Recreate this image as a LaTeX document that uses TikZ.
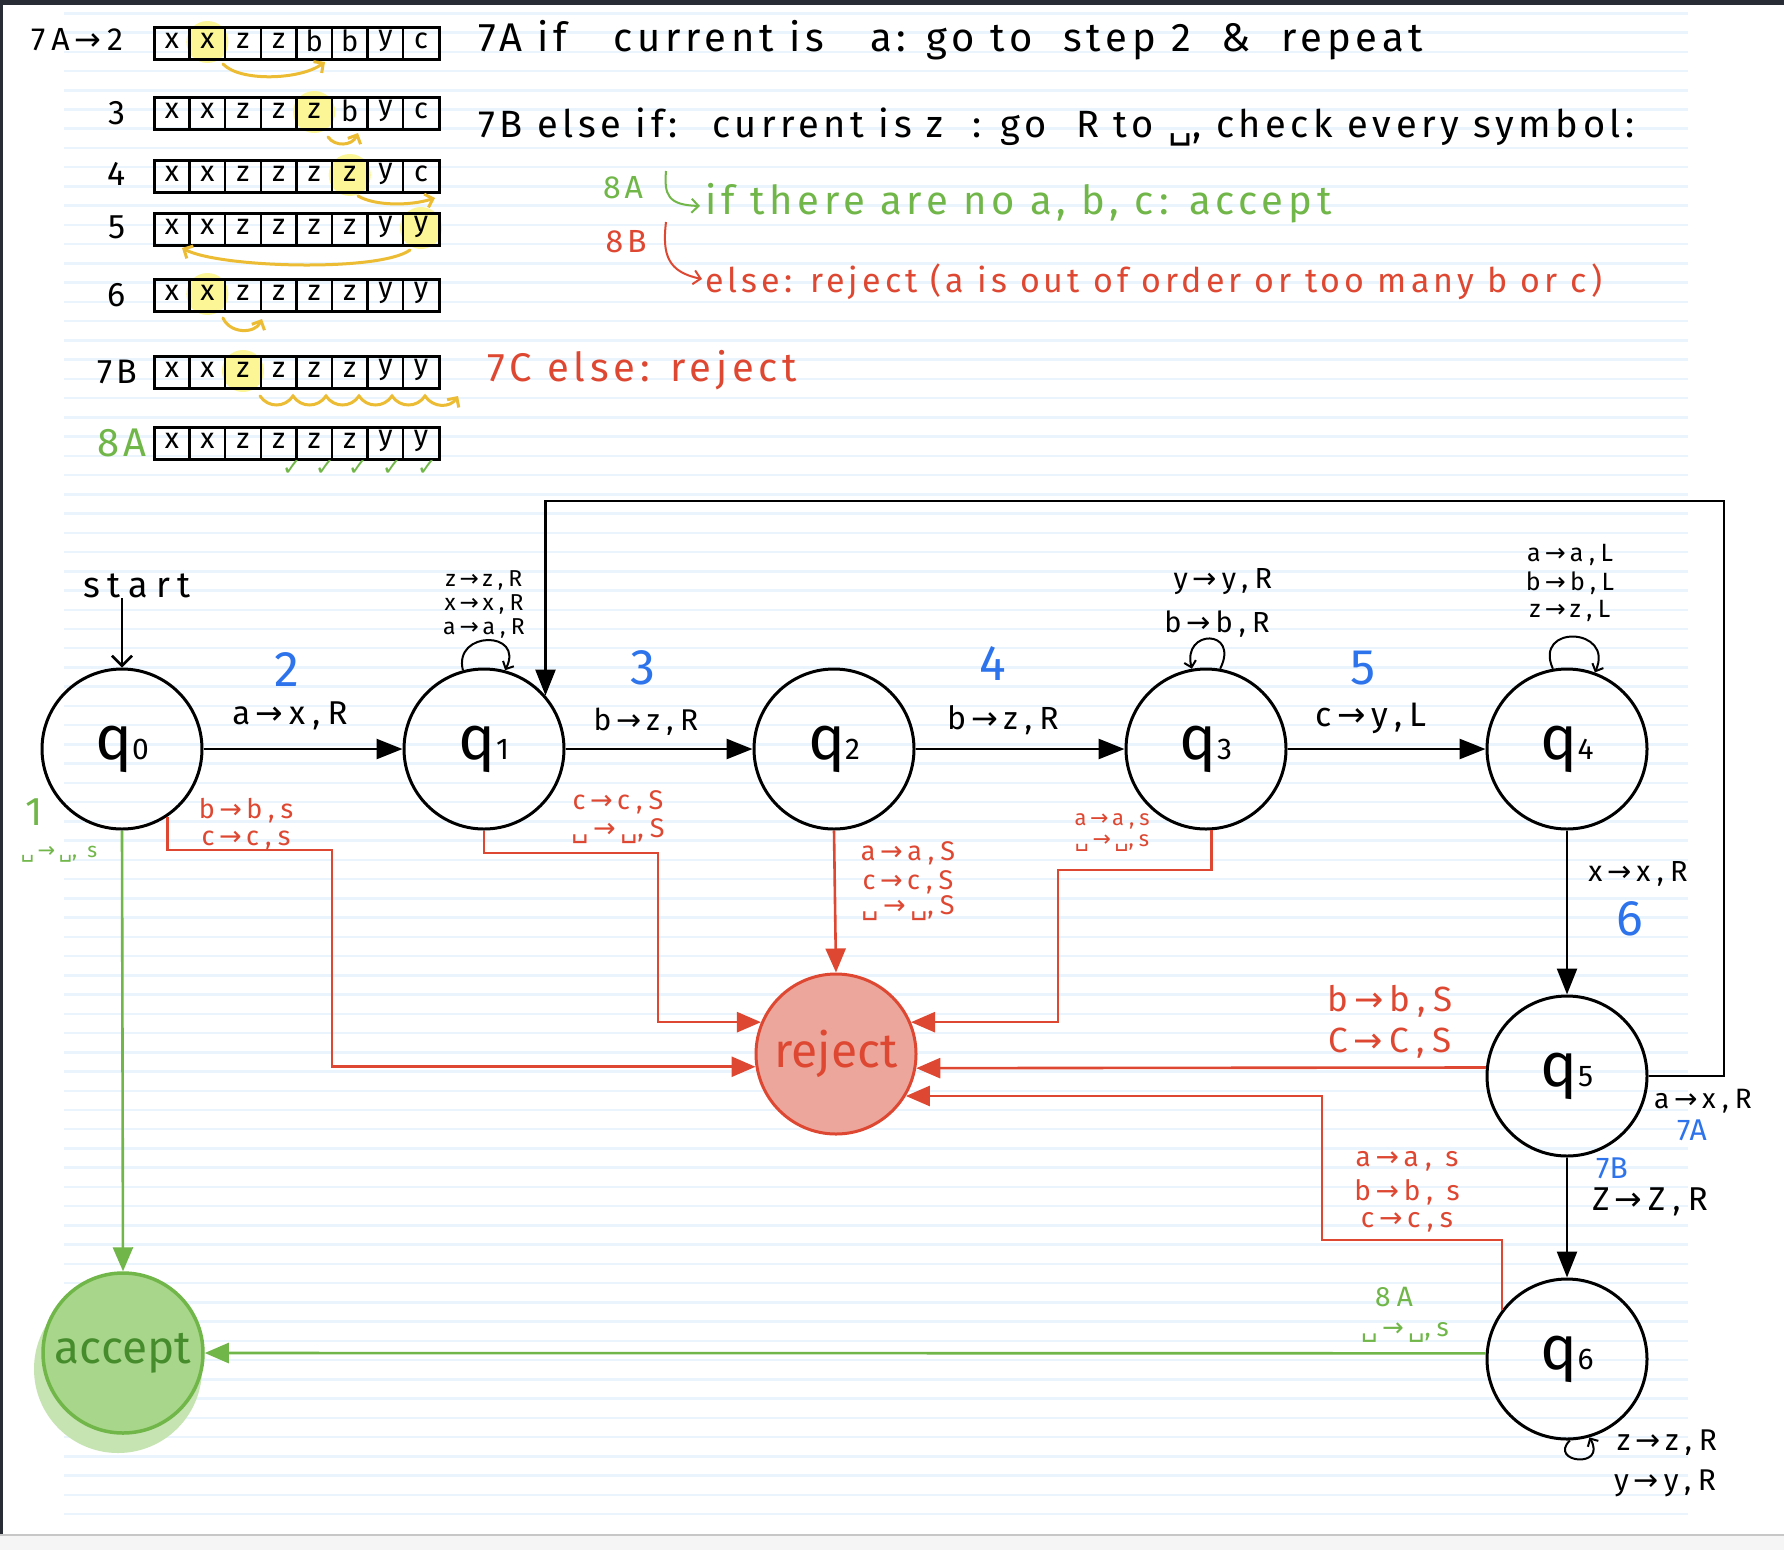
\documentclass[tikz,border=0pt]{standalone}
\usepackage{fontspec}
\setmainfont[LetterSpace=12]{Fira Sans}
\newfontfamily\lblf[LetterSpace=22]{Fira Sans}
\newfontfamily\plainf{Fira Sans}
\newfontfamily\symf{DejaVu Sans}
\usetikzlibrary{arrows.meta}
\newcommand\myra{{\,\symf →\,}}
\newcommand\myblank{{\symf ␣}}
\newcommand\fs[1]{\fontsize{#1}{#1}\selectfont}
\newcommand\labf[1]{\lblf\fontsize{#1}{#1}\selectfont}
\definecolor{stepblue}{RGB}{45,115,235}
\definecolor{rred}{RGB}{222,72,50}
\definecolor{ggreen}{RGB}{112,182,72}
\definecolor{dgreen}{RGB}{70,140,45}
\definecolor{rfill}{RGB}{236,166,156}
\definecolor{afill}{RGB}{168,214,138}
\definecolor{ashadow}{RGB}{198,228,178}
\definecolor{hl}{RGB}{252,246,150}
\definecolor{gold}{RGB}{236,188,52}
\definecolor{paper}{RGB}{234,244,252}
\definecolor{framec}{RGB}{40,44,52}
\newcommand\taperow[4]{%
  \ifnum#3>0 \fill[hl] ({154+35.6*(#3-0.5)},{#2-1}) circle (21);\fi
  \foreach \s [count=\i] in {#4} {
    \draw[line width=2.4pt] ({154+35.6*(\i-1)},{#2-16}) rectangle ++(35.6,32);
    \node[font=\plainf\fs{29}, inner sep=0pt] (#1c\i) at ({154+35.6*(\i-0.5)},{#2-2}) {\s};
  }
  \draw[line width=3pt] (154,{#2-16}) rectangle (439,{#2+16});
}
\begin{document}
\begin{tikzpicture}[x=1pt,y=-1pt,
  state/.style={circle,draw,line width=3pt,minimum size=160pt,inner sep=0pt,font=\plainf\fs{62}},
  lbl/.style={inner sep=0pt,font=\labf{26}},
  stepnum/.style={inner sep=0pt,text=stepblue,font=\plainf\fs{50}},
  blk/.style={line width=2.6pt,-{Triangle[length=26pt,width=20pt]}},
  redarr/.style={draw=rred,line width=2.6pt,-{Triangle[length=24pt,width=20pt]}},
  grnarr/.style={draw=ggreen,line width=2.6pt,-{Triangle[length=24pt,width=20pt]}},
  loopa/.style={line width=2pt,-{Straight Barb[length=6pt]}},
  goldarr/.style={draw=gold,line width=3pt,line cap=round,-{Straight Barb[length=7pt]}},
  rlbl/.style={lbl,text=rred},
  glbl/.style={lbl,text=ggreen},
]
\useasboundingbox (0,0) rectangle (1784,1550);
\fill[white] (0,0) rectangle (1784,1550);
\foreach \k in {0,...,78} \draw[paper,line width=2.5pt] (64,{13.3+19.24*\k}) -- (1688,{13.3+19.24*\k});
\fill[framec] (0,0) rectangle (1784,5);
\fill[framec] (0,0) rectangle (3,1535);
\fill[black!4] (0,1535) rectangle (1784,1550);
\draw[black!22,line width=2pt] (0,1535) -- (1784,1535);

% ---------- tapes ----------
\node[lbl,font=\labf{32}] (l1) at (77,40) {7A\myra 2};
\taperow{ra}{43}{2}{x,x,z,z,b,b,y,c}
\node[lbl,font=\fs{34}] (l2) at (117,113) {3};
\taperow{rb}{113}{5}{x,x,z,z,z,b,y,c}
\node[lbl,font=\fs{34}] (l3) at (117,174) {4};
\taperow{rc}{176}{6}{x,x,z,z,z,z,y,c}
\node[lbl,font=\fs{34}] (l4) at (117,227) {5};
\taperow{rd}{229}{8}{x,x,z,z,z,z,y,y}
\node[lbl,font=\fs{34}] (l5) at (117,295) {6};
\taperow{re}{295}{2}{x,x,z,z,z,z,y,y}
\node[lbl,font=\fs{34}] (l6) at (117,372) {7B};
\taperow{rf}{372}{3}{x,x,z,z,z,z,y,y}
\node[glbl,font=\fs{40}] (l7) at (122,443) {8A};
\taperow{rg}{443}{0}{x,x,z,z,z,z,y,y}

\draw[goldarr] (223,64) .. controls (240,82) and (300,80) .. (325,62);
\draw[goldarr] (328,137) .. controls (335,147) and (352,146) .. (358,133);
\draw[goldarr] (358,196) .. controls (375,206) and (410,206) .. (435,198);
\draw[goldarr] (410,250) .. controls (380,272) and (220,268) .. (182,248);
\draw[goldarr] (223,318) .. controls (230,334) and (255,334) .. (262,319);
\draw[goldarr] (260,396) \foreach \j in {0,...,5} { .. controls ({260+33*\j+8},408) and ({260+33*\j+25},408) .. ({260+33*(\j+1)},396) };
\foreach \cx [count=\n] in {292,325,358,392,427}
  \node[glbl,font=\symf\fs{24}] (chk\n) at (\cx,468) {✓};

% ---------- top text ----------
\node[lbl,anchor=west,font=\fs{40}] (t7a) at (478,40) {7A if \ \ current is \ \ a: go to \ step 2 \ \& \ repeat};
\node[lbl,anchor=west,font=\fs{38}] (t7b) at (478,127) {7B else if: \ current is z \ : go \ R to \myblank, check every symbol:};
\node[glbl,font=\fs{32}] (t8a) at (623,188) {8A};
\draw[ggreen,line width=2pt,-{Straight Barb[length=7pt]}] (666,171) .. controls (664,195) and (668,205) .. (700,206);
\node[glbl,anchor=west,font=\fs{40}] (t8at) at (705,203) {if there are no a, b, c: accept};
\node[rlbl,font=\fs{32}] (t8b) at (626,242) {8B};
\draw[rred,line width=2pt,-{Straight Barb[length=7pt]}] (666,222) .. controls (662,255) and (668,272) .. (702,279);
\node[rlbl,anchor=west,font=\fs{34}] (t8bt) at (705,282) {else: reject (a is out of order or too many b or c)};
\node[rlbl,anchor=west,font=\fs{40}] (t7c) at (487,370) {7C else: reject};

% ---------- states ----------
\node[state] (q0) at (122,749) {q{\fs{30}0}};
\node[state] (q1) at (484,749) {q{\fs{30}1}};
\node[state] (q2) at (834,749) {q{\fs{30}2}};
\node[state] (q3) at (1206,749) {q{\fs{30}3}};
\node[state] (q4) at (1567,749) {q{\fs{30}4}};
\node[state] (q5) at (1567,1076) {q{\fs{30}5}};
\node[state] (q6) at (1567,1359) {q{\fs{30}6}};
\node[circle,draw=rred,fill=rfill,line width=3pt,minimum size=160pt,inner sep=0pt,text=rred,font=\plainf\fs{48}] (rej) at (836,1054) {reject};
\fill[ashadow] (118,1369) circle (84);
\node[circle,draw=ggreen,fill=afill,line width=3.5pt,minimum size=160pt,inner sep=0pt,text=dgreen,font=\plainf\fs{46}] (acc) at (123,1353) {accept};

\node[lbl,font=\labf{36}] (start) at (137,586) {start};
\draw[line width=2.5pt,-{Straight Barb[length=10pt]}] (q0.north |- start.south) -- (q0.north);

% ---------- black edges ----------
\draw[blk] (q0) -- (q1);
\draw[blk] (q1) -- (q2);
\draw[blk] (q2) -- (q3);
\draw[blk] (q3) -- (q4);
\draw[blk] (q4) -- (q5);
\draw[blk] (q5) -- (q6);
\draw[blk] (q5.east) -| (1724,501) -| (q1.41.4);

\draw[loopa] (q1.105) .. controls +(-10,-40) and +(20,-40) .. (q1.75);
\draw[loopa] (q3.80) .. controls +(20,-40) and +(-10,-40) .. (q3.100);
\draw[loopa] (q4.100) .. controls +(-20,-45) and +(20,-45) .. (q4.70);
\draw[loopa] (q6.-88) .. controls +(-22,22) and +(18,32) .. (q6.-74);

% ---------- red edges ----------
\draw[redarr] (q0.-56) |- (332,850) |- (rej.189);
\draw[redarr] (q1.south) |- (658,853) |- (rej.157);
\draw[redarr] (q2.south) -- (rej.north);
\draw[redarr] (q3.-86) |- (1058,870) |- (rej.23);
\draw[redarr] (q5.174) -- (rej.-10);
\draw[redarr] (q6.143) |- (1322,1240) |- (rej.-31);

% ---------- green edges ----------
\draw[grnarr] (q0.south) -- (acc.north);
\draw[grnarr] (q6.176) -- (acc.east);

% ---------- labels ----------
\node[stepnum] (s2) at (287,670) {2};
\node[lbl,font=\labf{33}] (e01) at (290,716) {a\myra x,R};
\node[stepnum] (s3) at (643,668) {3};
\node[lbl,font=\labf{30}] (e12) at (646,722) {b\myra z,R};
\node[stepnum] (s4) at (993,664) {4};
\node[lbl,font=\labf{32}] (e23) at (1003,720) {b\myra z,R};
\node[stepnum] (s5) at (1363,668) {5};
\node[lbl,font=\labf{34}] (e34) at (1371,718) {c\myra y,L};

\node[lbl,font=\labf{23}] (lp1a) at (484,580) {z\myra z,R};
\node[lbl,font=\labf{23}] (lp1b) at (484,604) {x\myra x,R};
\node[lbl,font=\labf{23}] (lp1c) at (484,628) {a\myra a,R};
\node[lbl,font=\labf{29}] (lp3a) at (1223,582) {y\myra y,R};
\node[lbl,font=\labf{29}] (lp3b) at (1217,624) {b\myra b,R};
\node[lbl,font=\labf{25}] (lp4a) at (1570,555) {a\myra a,L};
\node[lbl,font=\labf{25}] (lp4b) at (1570,583) {b\myra b,L};
\node[lbl,font=\labf{25}] (lp4c) at (1570,611) {z\myra z,L};

\node[lbl,font=\labf{29}] (e45) at (1638,874) {x\myra x,R};
\node[stepnum] (s6) at (1630,919) {6};
\node[lbl,font=\labf{28}] (e51) at (1703,1101) {a\myra x,R};
\node[stepnum,font=\plainf\fs{30}] (s7a) at (1692,1130) {7A};
\node[stepnum,font=\plainf\fs{30}] (s7b) at (1612,1168) {7B};
\node[lbl,font=\labf{33}] (e56) at (1650,1202) {Z\myra Z,R};
\node[lbl,font=\labf{30}] (lp6a) at (1667,1443) {z\myra z,R};
\node[lbl,font=\labf{30}] (lp6b) at (1665,1483) {y\myra y,R};

\node[glbl,font=\fs{40}] (g1) at (34,812) {1};
\node[glbl,font=\labf{21}] (g1l) at (59,854) {\myblank\myra\myblank, s};
\node[glbl,font=\labf{28}] (g8a) at (1394,1297) {8A};
\node[glbl,font=\labf{26}] (g8l) at (1405,1332) {\myblank\myra\myblank,s};

\node[rlbl,font=\labf{27}] (r0a) at (246,811) {b\myra b,s};
\node[rlbl,font=\labf{27}] (r0b) at (246,840) {c\myra c,s};
\node[rlbl,font=\labf{27}] (r1a) at (618,802) {c\myra c,S};
\node[rlbl,font=\labf{27}] (r1b) at (618,831) {\myblank\myra\myblank,S};
\node[rlbl,font=\labf{27}] (r2a) at (908,853) {a\myra a,S};
\node[rlbl,font=\labf{27}] (r2b) at (908,882) {c\myra c,S};
\node[rlbl,font=\labf{27}] (r2c) at (908,908) {\myblank\myra\myblank,S};
\node[rlbl,font=\labf{22}] (r3a) at (1112,821) {a\myra a,s};
\node[rlbl,font=\labf{22}] (r3b) at (1112,843) {\myblank\myra\myblank,s};
\node[rlbl,font=\labf{35}] (r5a) at (1390,1001) {b\myra b,S};
\node[rlbl,font=\labf{35}] (r5b) at (1390,1043) {C\myra C,S};
\node[rlbl,font=\labf{28}] (r6a) at (1407,1161) {a\myra a, s};
\node[rlbl,font=\labf{28}] (r6b) at (1407,1192) {b\myra b, s};
\node[rlbl,font=\labf{28}] (r6c) at (1407,1222) {c\myra c,s};
\end{tikzpicture}
\end{document}
